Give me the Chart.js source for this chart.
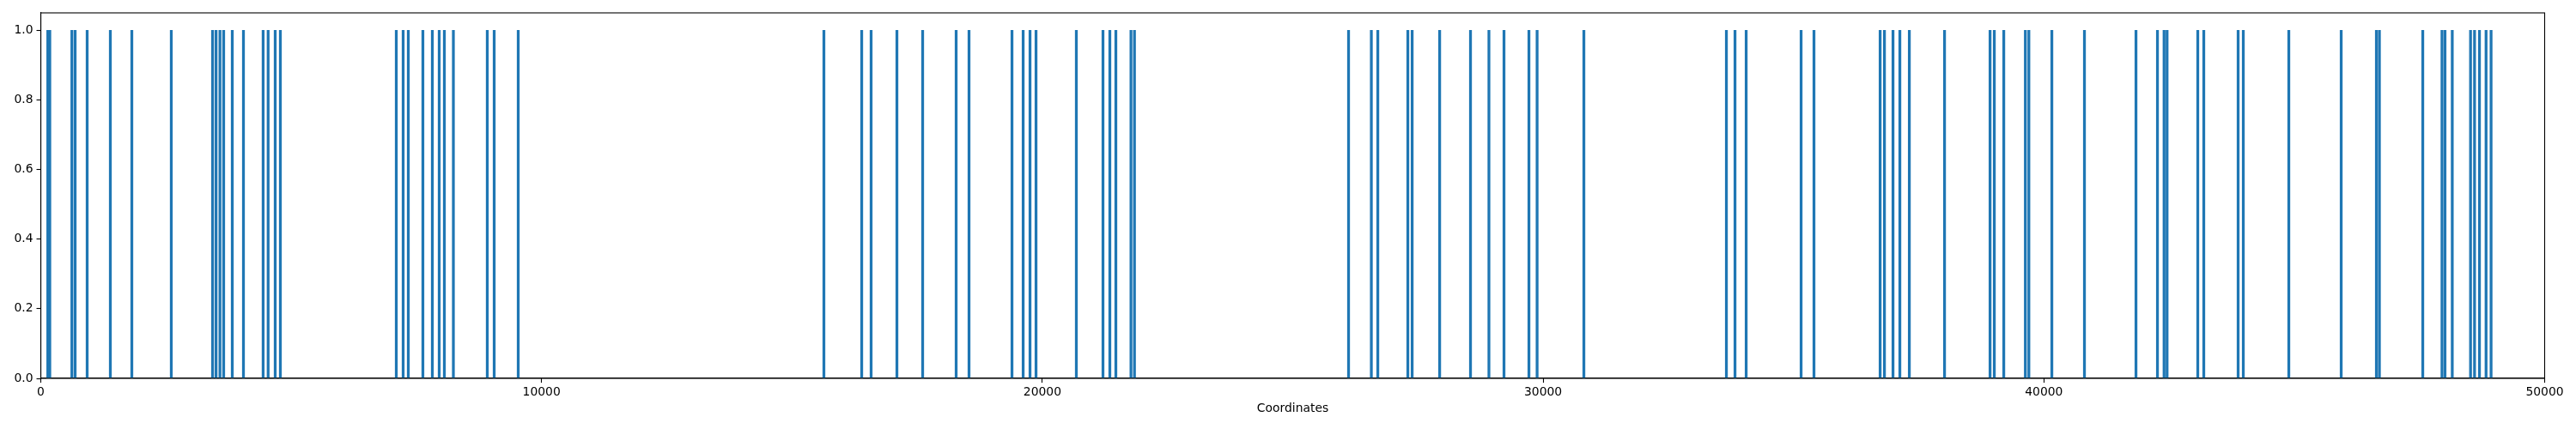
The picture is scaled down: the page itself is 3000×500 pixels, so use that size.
<!DOCTYPE html>
<html>
<head>
<meta charset="utf-8">
<script src="https://cdn.jsdelivr.net/npm/chart.js@4/dist/chart.umd.min.js"></script>
<style>
html,body{margin:0;padding:0;background:#fff;}
#wrap{width:3000px;height:500px;}
</style>
</head>
<body>
<div id="wrap"><canvas id="c" width="3000" height="500"></canvas></div>
<script>
const coordinates = [
  140, 180, 621, 686, 926, 1389, 1818, 2606, 3430, 3500, 3578, 3652, 3824, 4047,
  4440, 4540, 4681, 4784, 7099, 7236, 7339, 7630, 7819, 7956, 8059, 8239, 8916,
  9054, 9534, 15638, 16393, 16581, 17096, 17610, 18279, 18536, 19394, 19617,
  19754, 19874, 20679, 21211, 21348, 21468, 21770, 21840, 26115, 26570, 26699,
  27299, 27385, 27934, 28550, 28918, 29219, 29717, 29880, 30814, 33660, 33832,
  34055, 35152, 35409, 36730, 36816, 36987, 37124, 37313, 38016, 38925, 39010,
  39199, 39630, 39700, 40159, 40810, 41839, 42268, 42400, 42460, 43073, 43193,
  43879, 43982, 44891, 45937, 46640, 46700, 47566, 47950, 48010, 48155, 48520,
  48600, 48698, 48830, 48930
];
const heights = coordinates.map(() => 1);
const xTicks = [0, 10000, 20000, 30000, 40000, 50000];
const yTicks = [0.0, 0.2, 0.4, 0.6, 0.8, 1.0];
const xLabel = "Coordinates";

const FONT = {family: "'DejaVu Sans', sans-serif", size: 13.9};

const framePlugin = {
  id: 'frame',
  afterDraw(chart) {
    const a = chart.chartArea, ctx = chart.ctx;
    ctx.save();
    ctx.strokeStyle = '#000';
    ctx.lineWidth = 1.1;
    ctx.strokeRect(a.left, a.top, a.right - a.left, a.bottom - a.top);
    ctx.restore();
  }
};

new Chart(document.getElementById('c'), {
  type: 'bar',
  data: {
    datasets: [{
      data: coordinates.map((x, i) => ({x: x, y: heights[i]})),
      backgroundColor: '#1f77b4',
      borderWidth: 0,
      barThickness: 2.6
    }]
  },
  options: {
    responsive: false,
    animation: false,
    devicePixelRatio: 1,
    layout: {padding: {left: 0, right: 36.5, top: 15, bottom: 0}},
    plugins: {legend: {display: false}, tooltip: {enabled: false}},
    scales: {
      x: {
        type: 'linear',
        min: 0, max: 50000,
        offset: false,
        afterBuildTicks: s => { s.ticks = xTicks.map(v => ({value: v})); },
        afterFit: s => { s.height = 59; },
        grid: {offset: false, drawOnChartArea: false, drawTicks: true, tickLength: 5, color: '#000', tickWidth: 1.1},
        border: {display: true, color: '#000', width: 1.1},
        ticks: {color: '#000', font: FONT, padding: 3, maxRotation: 0, autoSkip: false,
                callback: v => String(v)},
        title: {display: true, text: xLabel, color: '#000', font: FONT, padding: {top: 4, bottom: 15}}
      },
      y: {
        min: 0, max: 1.05,
        afterBuildTicks: s => { s.ticks = yTicks.map(v => ({value: v})); },
        afterFit: s => { s.width = 47.5; },
        grid: {offset: false, drawOnChartArea: false, drawTicks: true, tickLength: 5, color: '#000', tickWidth: 1.1},
        border: {display: true, color: '#000', width: 1.1},
        ticks: {color: '#000', font: FONT, padding: 4, autoSkip: false,
                callback: v => Number(v).toFixed(1)}
      }
    }
  },
  plugins: [framePlugin]
});
</script>
</body>
</html>
